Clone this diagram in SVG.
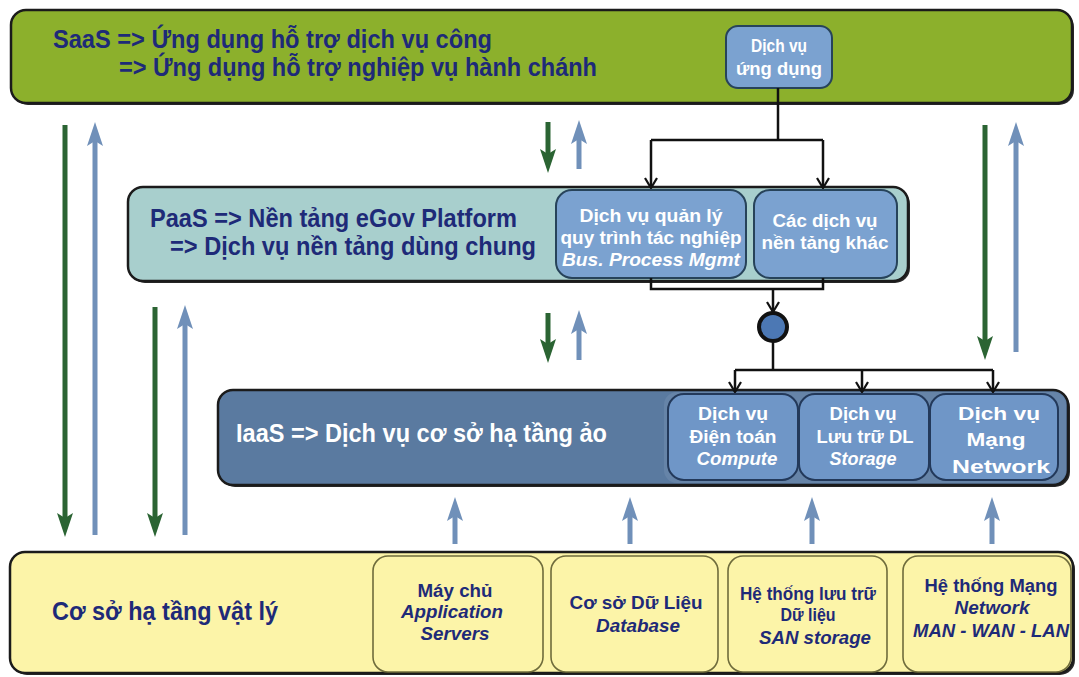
<svg xmlns="http://www.w3.org/2000/svg" width="1079" height="677" viewBox="0 0 1079 677">
  <defs>
    <style>
      .bar { stroke: #1b1b1b; stroke-width: 2.5; }
      .shadow { fill: #2a2a2a; }
      .saas { fill: #8cb02c; }
      .paas { fill: #a8cfcd; }
      .iaas { fill: #5a7aa0; }
      .phys { fill: #fcf4a8; }
      .svc { fill: #7ba2d0; stroke: #27435a; stroke-width: 2; }
      .svc2 { fill: #6f96c7; stroke: #23395a; stroke-width: 2; }
      .hw { fill: #fcf4a8; stroke: #6f6c3c; stroke-width: 1.6; }
      text { font-family: "Liberation Sans", Arial, sans-serif; font-weight: bold; }
      .title { font-size: 25px; fill: #1e2a78; }
      .title-w { font-size: 25px; fill: #ffffff; }
      .lbl { font-size: 18px; fill: #ffffff; text-anchor: middle; }
      .lbl-n { font-size: 18px; fill: #1e2a78; text-anchor: middle; }
      .it { font-style: italic; }
      .flow { fill: none; stroke: #111; stroke-width: 2.5; }
      .down { stroke: #2b6433; stroke-width: 5; fill: none; }
      .up { stroke: #7090b9; stroke-width: 5; fill: none; }
    </style>
    <marker id="headGreen" viewBox="0 0 24 16" markerWidth="24" markerHeight="16" refX="11" refY="8" orient="auto" markerUnits="userSpaceOnUse">
      <path d="M0,0 L24,8 L0,16 L5,8 Z" fill="#2b6433"/>
    </marker>
    <marker id="headBlue" viewBox="0 0 24 16" markerWidth="24" markerHeight="16" refX="11" refY="8" orient="auto" markerUnits="userSpaceOnUse">
      <path d="M0,0 L24,8 L0,16 L5,8 Z" fill="#7090b9"/>
    </marker>
    <marker id="vee" viewBox="0 0 12 14" markerWidth="12" markerHeight="14" refX="11" refY="7" orient="auto" markerUnits="userSpaceOnUse">
      <path d="M1,1 L11,7 L1,13" fill="none" stroke="#111" stroke-width="2.2"/>
    </marker>
  </defs>

  <rect width="1079" height="677" fill="#ffffff"/>

  <!-- SaaS layer -->
  <g id="saas">
    <rect class="shadow" x="13" y="12" width="1061" height="93" rx="15"/>
    <rect class="bar saas" x="11" y="10" width="1061" height="93" rx="15"/>
    <text class="title" x="53" y="48" textLength="439" lengthAdjust="spacingAndGlyphs">SaaS =&gt; Ứng dụng hỗ trợ dịch vụ công</text>
    <text class="title" x="119" y="76" textLength="478" lengthAdjust="spacingAndGlyphs">=&gt; Ứng dụng hỗ trợ nghiệp vụ hành chánh</text>
  </g>

  <g id="app-service">
    <rect class="svc" x="726" y="26" width="106" height="62" rx="12"/>
    <text class="lbl" x="779" y="52" textLength="56" lengthAdjust="spacingAndGlyphs">Dịch vụ</text>
    <text class="lbl" x="779" y="75" textLength="86" lengthAdjust="spacingAndGlyphs">ứng dụng</text>
  </g>

  <!-- PaaS layer -->
  <g id="paas">
    <rect class="shadow" x="130" y="189" width="780" height="94" rx="15"/>
    <rect class="bar paas" x="128" y="187" width="780" height="94" rx="15"/>
    <text class="title" x="150" y="227" textLength="367" lengthAdjust="spacingAndGlyphs">PaaS =&gt; Nền tảng eGov Platform</text>
    <text class="title" x="170" y="255" textLength="366" lengthAdjust="spacingAndGlyphs">=&gt; Dịch vụ nền tảng dùng chung</text>
  </g>

  <g id="bpm-service">
    <rect class="svc" x="556" y="190" width="190" height="88" rx="16"/>
    <text class="lbl" x="651" y="222" textLength="143" lengthAdjust="spacingAndGlyphs">Dịch vụ quản lý</text>
    <text class="lbl" x="651" y="244" textLength="181" lengthAdjust="spacingAndGlyphs">quy trình tác nghiệp</text>
    <text class="lbl it" x="651" y="266" textLength="178" lengthAdjust="spacingAndGlyphs">Bus. Process Mgmt</text>
  </g>

  <g id="other-platform-services">
    <rect class="svc" x="754" y="190" width="143" height="88" rx="16"/>
    <text class="lbl" x="825" y="227" textLength="105" lengthAdjust="spacingAndGlyphs">Các dịch vụ</text>
    <text class="lbl" x="825" y="249" textLength="127" lengthAdjust="spacingAndGlyphs">nền tảng khác</text>
  </g>

  <g id="join">
    <circle cx="773" cy="327" r="14" fill="#4c78b4" stroke="#111" stroke-width="4"/>
  </g>

  <!-- IaaS layer -->
  <g id="iaas">
    <rect class="shadow" x="220" y="392" width="850" height="95" rx="15"/>
    <rect class="bar iaas" x="218" y="390" width="850" height="95" rx="15"/>
    <rect x="664" y="392" width="402" height="91" rx="13" fill="#6684a8"/>
    <text class="title-w" x="236" y="442" textLength="371" lengthAdjust="spacingAndGlyphs">IaaS =&gt; Dịch vụ cơ sở hạ tầng ảo</text>
  </g>

  <g id="compute">
    <rect class="svc2" x="668" y="394" width="130" height="86" rx="16"/>
    <text class="lbl" x="733" y="420" textLength="70" lengthAdjust="spacingAndGlyphs">Dịch vụ</text>
    <text class="lbl" x="733" y="443" textLength="87" lengthAdjust="spacingAndGlyphs">Điện toán</text>
    <text class="lbl it" x="737" y="465" textLength="81" lengthAdjust="spacingAndGlyphs">Compute</text>
  </g>

  <g id="storage">
    <rect class="svc2" x="799" y="394" width="130" height="86" rx="16"/>
    <text class="lbl" x="863" y="420" textLength="67" lengthAdjust="spacingAndGlyphs">Dịch vụ</text>
    <text class="lbl" x="865" y="443" textLength="97" lengthAdjust="spacingAndGlyphs">Lưu trữ DL</text>
    <text class="lbl it" x="863" y="465" textLength="67" lengthAdjust="spacingAndGlyphs">Storage</text>
  </g>

  <g id="network">
    <rect class="svc2" x="930" y="394" width="128" height="86" rx="16"/>
    <text class="lbl" x="999" y="420" font-size="23" textLength="82" lengthAdjust="spacingAndGlyphs">Dịch vụ</text>
    <text class="lbl" x="996" y="446" font-size="23" textLength="59" lengthAdjust="spacingAndGlyphs">Mạng</text>
    <text class="lbl" x="1001" y="473" font-size="23" textLength="98" lengthAdjust="spacingAndGlyphs">Network</text>
  </g>

  <!-- Physical infrastructure -->
  <g id="physical">
    <rect class="shadow" x="12" y="554" width="1063" height="121" rx="15"/>
    <rect class="bar phys" x="10" y="552" width="1063" height="121" rx="15"/>
    <text class="title" x="52" y="620" textLength="226" lengthAdjust="spacingAndGlyphs">Cơ sở hạ tầng vật lý</text>
  </g>

  <g id="servers">
    <rect class="hw" x="373" y="556" width="170" height="116" rx="15"/>
    <text class="lbl-n" x="455" y="597" textLength="75" lengthAdjust="spacingAndGlyphs">Máy chủ</text>
    <text class="lbl-n it" x="452" y="618" textLength="102" lengthAdjust="spacingAndGlyphs">Application</text>
    <text class="lbl-n it" x="455" y="640" textLength="69" lengthAdjust="spacingAndGlyphs">Servers</text>
  </g>

  <g id="database">
    <rect class="hw" x="551" y="556" width="167" height="116" rx="15"/>
    <text class="lbl-n" x="636" y="609" textLength="133" lengthAdjust="spacingAndGlyphs">Cơ sở Dữ Liệu</text>
    <text class="lbl-n it" x="638" y="632" textLength="84" lengthAdjust="spacingAndGlyphs">Database</text>
  </g>

  <g id="san">
    <rect class="hw" x="728" y="556" width="159" height="116" rx="15"/>
    <text class="lbl-n" x="808" y="600" textLength="136" lengthAdjust="spacingAndGlyphs">Hệ thống lưu trữ</text>
    <text class="lbl-n" x="808" y="621" textLength="55" lengthAdjust="spacingAndGlyphs">Dữ liệu</text>
    <text class="lbl-n it" x="815" y="644" textLength="112" lengthAdjust="spacingAndGlyphs">SAN storage</text>
  </g>

  <g id="net-hw">
    <rect class="hw" x="903" y="556" width="168" height="116" rx="15"/>
    <text class="lbl-n" x="991" y="592" textLength="133" lengthAdjust="spacingAndGlyphs">Hệ thống Mạng</text>
    <text class="lbl-n it" x="992" y="614" textLength="75" lengthAdjust="spacingAndGlyphs">Network</text>
    <text class="lbl-n it" x="991" y="637" textLength="156" lengthAdjust="spacingAndGlyphs">MAN - WAN - LAN</text>
  </g>

  <!-- Connectors -->
  <g id="connectors">
    <!-- service fan-out from SaaS to PaaS -->
    <path class="flow" d="M778,88 V140"/>
    <path class="flow" d="M651,140 H823"/>
    <path class="flow" d="M651,140 V188" marker-end="url(#vee)"/>
    <path class="flow" d="M823,140 V188" marker-end="url(#vee)"/>
    <!-- merge into join node -->
    <path class="flow" d="M651,278 V289 H823 V278"/>
    <path class="flow" d="M773,289 V312" marker-end="url(#vee)"/>
    <!-- fan-out to IaaS services -->
    <path class="flow" d="M773,341 V370"/>
    <path class="flow" d="M735,370 H993"/>
    <path class="flow" d="M735,370 V392" marker-end="url(#vee)"/>
    <path class="flow" d="M862,370 V392" marker-end="url(#vee)"/>
    <path class="flow" d="M993,370 V392" marker-end="url(#vee)"/>

    <!-- long vertical flows on the left -->
    <line class="down" x1="65" y1="125" x2="65" y2="524" marker-end="url(#headGreen)"/>
    <line class="up" x1="95" y1="535" x2="95" y2="135" marker-end="url(#headBlue)"/>
    <line class="down" x1="155" y1="307" x2="155" y2="524" marker-end="url(#headGreen)"/>
    <line class="up" x1="185" y1="535" x2="185" y2="318" marker-end="url(#headBlue)"/>

    <!-- short flows between layers -->
    <line class="down" x1="548" y1="122" x2="548" y2="160" marker-end="url(#headGreen)"/>
    <line class="up" x1="579" y1="169" x2="579" y2="133" marker-end="url(#headBlue)"/>
    <line class="down" x1="548" y1="313" x2="548" y2="350" marker-end="url(#headGreen)"/>
    <line class="up" x1="579" y1="360" x2="579" y2="323" marker-end="url(#headBlue)"/>

    <!-- right side flows -->
    <line class="down" x1="985" y1="125" x2="985" y2="347" marker-end="url(#headGreen)"/>
    <line class="up" x1="1016" y1="352" x2="1016" y2="135" marker-end="url(#headBlue)"/>

    <!-- hardware up to IaaS -->
    <line class="up" x1="455" y1="544" x2="455" y2="510" marker-end="url(#headBlue)"/>
    <line class="up" x1="630" y1="544" x2="630" y2="510" marker-end="url(#headBlue)"/>
    <line class="up" x1="812" y1="544" x2="812" y2="510" marker-end="url(#headBlue)"/>
    <line class="up" x1="992" y1="544" x2="992" y2="510" marker-end="url(#headBlue)"/>
  </g>
</svg>
